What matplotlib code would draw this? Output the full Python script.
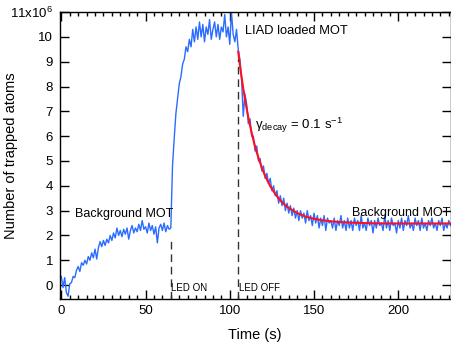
import numpy as np
import matplotlib
matplotlib.use('Agg')
import matplotlib.pyplot as plt

plt.rcParams['font.family'] = ['Liberation Sans', 'DejaVu Sans']
plt.rcParams['mathtext.fontset'] = 'custom'
plt.rcParams['mathtext.rm'] = 'Liberation Sans'
plt.rcParams['mathtext.it'] = 'Liberation Sans:italic'

# trapped atom number (x1e6), one sample per second
# background MOT loading, t = 0..65 s
background_load = [0.35, -0.1, 0.3, -0.3, -0.45, 0.05, 0.1, 0.35, 0.3, 0.6,
                   0.75, 0.55, 0.9, 0.8, 1.0, 0.85, 1.15, 1.0, 1.3, 1.1,
                   1.45, 1.05, 1.5, 1.75, 1.55, 1.8, 1.6, 1.85, 1.7, 2.0,
                   1.8, 2.1, 1.9, 2.3, 2.0, 2.2, 1.95, 2.25, 2.05, 2.3,
                   1.85, 2.2, 2.4, 2.1, 2.3, 2.15, 2.45, 2.2, 2.6, 2.25,
                   2.35, 2.1, 2.5, 2.2, 2.4, 2.05, 2.35, 1.7, 2.3, 2.45,
                   2.2, 2.5, 2.15, 2.4, 2.25,
                   2.3]
# LED on, t = 66..104 s
liad_load = [4.8, 5.9, 6.9, 7.5, 8.1, 8.4, 8.9, 9.1, 9.6, 9.4,
             9.9, 9.6, 10.3, 9.8,
             10.4, 9.9, 10.6, 10.0, 10.5, 9.8, 10.4, 10.1, 10.7, 9.9,
             10.3, 10.6, 10.0, 10.5, 9.9, 10.4, 10.2, 10.9, 10.0, 10.4,
             9.7, 11.0, 10.1, 9.8, 10.3]
# LED off, t = 105..231 s
decay = [9.5, 9.1, 8.3, 6.8, 7.7, 7.3, 6.5, 6.7, 6.0, 6.0,
         5.4, 5.6, 5.0, 5.1, 4.6, 4.8, 4.3, 4.5, 4.1, 4.3,
         3.8, 4.0, 3.6, 3.8, 3.3, 3.6, 3.2, 3.5, 3.0, 3.3,
         2.9, 3.2, 2.8, 3.1, 2.7, 3.0, 2.6, 3.0, 2.7, 2.9,
         2.5, 3.0, 2.6, 2.8, 2.4, 2.9, 2.5, 2.8, 2.3, 2.7,
         2.4, 2.8, 2.2, 2.7, 2.5, 2.6, 2.3, 2.7, 2.2, 2.6,
         2.4, 2.8, 2.3, 2.6, 2.2, 2.7,
         2.3, 2.6, 2.2, 2.7, 2.4, 2.6, 2.2, 2.8, 2.3, 2.5,
         2.2, 2.7, 2.4, 2.6, 2.1, 2.6, 2.3, 2.7, 2.4, 2.5,
         2.2, 2.8, 2.3, 2.6, 2.2, 2.7, 2.4, 2.5, 2.1, 2.6,
         2.3, 2.7, 2.2, 2.6, 2.4, 2.8, 2.3, 2.5, 2.2, 2.7,
         2.4, 2.6, 2.2, 2.7, 2.3, 2.5, 2.2, 2.6, 2.4, 2.7,
         2.3, 2.5, 2.2, 2.6, 2.4, 2.7, 2.2, 2.5, 2.3, 2.6, 2.4]

# exponential fit
fit_time = [105, 106, 107, 108, 109, 110, 111, 112, 113, 114, 115, 116, 117, 118,
            119, 120, 121, 122, 123, 124, 125, 127, 129, 131, 133, 135, 140, 145,
            150, 155, 160, 165, 175, 185, 200, 231]
fit_atoms = [9.40, 8.87, 8.38, 7.92, 7.50, 7.12, 6.76, 6.43, 6.13, 5.85, 5.59, 5.35,
             5.13, 4.93, 4.74, 4.56, 4.40, 4.26, 4.12, 3.99, 3.88, 3.67, 3.49, 3.34,
             3.22, 3.11, 2.90, 2.76, 2.67, 2.61, 2.57, 2.54, 2.51, 2.49, 2.48, 2.48]

led_on, led_off = 65, 105
led_on_top, led_off_top = 1.8, 9.1

atoms = np.array(background_load + liad_load + decay)
time = np.arange(len(atoms))

fig = plt.figure(figsize=(4.52, 3.47), dpi=100)
ax = fig.add_axes([0.1327, 0.1383, 0.865, 0.827])

ax.plot(time, atoms, color='#2a6cff', lw=1.0)
ax.plot(fit_time, fit_atoms, color='#ff1020', lw=1.5)

ymin = -0.56
ax.plot([led_on, led_on], [ymin, led_on_top], color='#333333', lw=1, ls=(0, (5.5, 3.5)))
ax.plot([led_off, led_off], [ymin, led_off_top], color='#333333', lw=1, ls=(0, (5.5, 3.5)))

ax.set_xlim(-0.8, 231.3)
ax.set_ylim(ymin, 11)

ax.set_xticks([0, 50, 100, 150, 200])
ax.set_xticks(np.arange(0, 231, 5), minor=True)
ax.set_yticks(range(12))
ax.set_yticklabels([str(i) for i in range(11)] + ['11x10$^{6}$'])
ax.tick_params(which='both', direction='in', top=True, right=True, labelsize=9.5, width=1)
ax.tick_params(which='major', length=6.5)
ax.tick_params(which='minor', length=3.2)
ax.tick_params(axis='y', pad=5)
ax.tick_params(axis='x', pad=4)
for s in ax.spines.values():
    s.set_linewidth(1)

ax.set_xlabel('Time (s)', fontsize=10.5)
ax.set_ylabel('Number of trapped atoms', fontsize=10.5)
ax.xaxis.set_label_coords(0.499, -0.1)
ax.yaxis.set_label_coords(-0.107, 0.5)

ax.text(8.1, 2.88, 'Background MOT', fontsize=9, va='center')
ax.text(172.7, 2.92, 'Background MOT', fontsize=9, va='center')
ax.text(109.1, 10.24, 'LIAD loaded MOT', fontsize=9.3, va='center')
ax.text(115, 6.45, r'$\mathrm{\gamma}_{\mathrm{decay}}$ = 0.1 s$^{-1}$', fontsize=9.5, va='center')
ax.text(65.4, -0.12, 'LED ON', fontsize=7, va='center')
ax.text(105.4, -0.12, 'LED OFF', fontsize=7, va='center')

fig.savefig('out.png', dpi=100)
